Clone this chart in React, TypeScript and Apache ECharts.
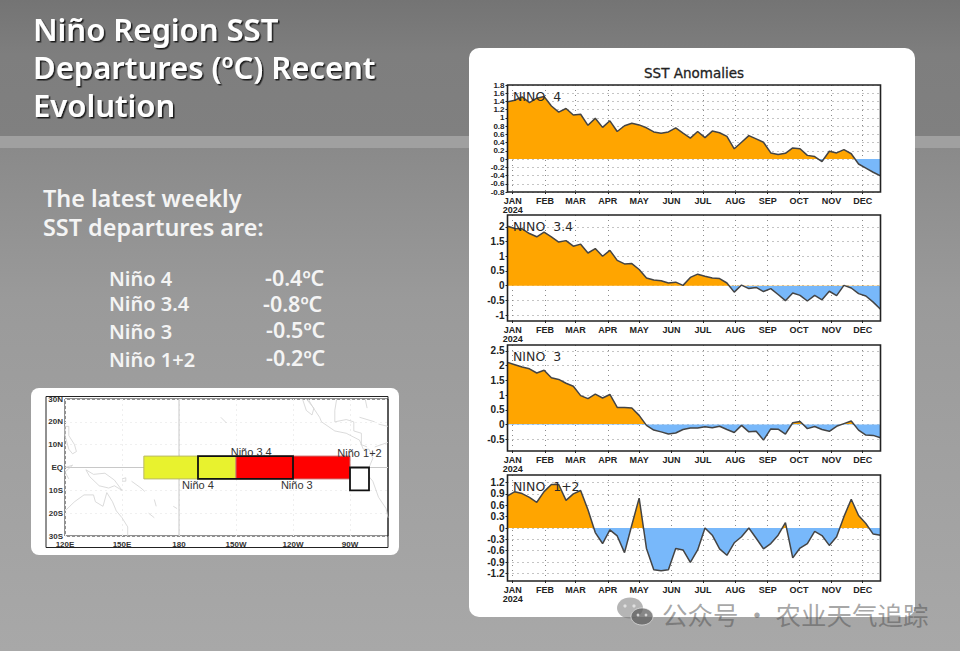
import React, { useEffect, useRef } from "react";
import * as echarts from "echarts";

const monthLabels = ["JAN","FEB","MAR","APR","MAY","JUN","JUL","AUG","SEP","OCT","NOV","DEC"];
// day offsets from the first weekly sample (27 Dec 2023) to the 1st of each month
const monthDays = [5,36,65,96,126,157,187,218,249,279,310,340];
const weekDays = [0,7,14,21,28,35,42,49,56,63,70,77,84,91,98,105,112,119,126,133,140,147,154,161,168,175,182,189,196,203,210,217,224,231,238,245,252,259,266,273,280,287,294,301,308,315,322,329,336,343,350,357];

const nino4 = [1.39,1.43,1.51,1.37,1.48,1.52,1.29,1.14,1.23,1.07,1.09,0.82,0.99,0.77,0.93,0.67,0.81,0.87,0.83,0.76,0.66,0.63,0.66,0.76,0.63,0.51,0.67,0.52,0.68,0.64,0.55,0.25,0.41,0.57,0.49,0.41,0.15,0.11,0.14,0.27,0.25,0.09,0.06,-0.06,0.19,0.15,0.23,0.13,-0.12,-0.22,-0.32,-0.41];
const nino34 = [2.02,1.94,1.93,1.77,1.66,1.82,1.66,1.48,1.53,1.34,1.41,1.11,1.26,1.0,1.2,0.86,0.74,0.75,0.55,0.26,0.19,0.17,0.09,0.12,0.01,0.28,0.39,0.32,0.26,0.24,0.09,-0.22,0.02,-0.1,-0.06,-0.2,-0.1,-0.3,-0.51,-0.25,-0.33,-0.52,-0.33,-0.48,-0.19,-0.34,0.01,-0.08,-0.27,-0.35,-0.56,-0.8];
const nino3 = [2.11,2.03,1.95,1.89,1.75,1.84,1.59,1.53,1.4,1.3,0.98,0.88,1.03,0.9,1.02,0.58,0.58,0.56,0.31,-0.03,-0.19,-0.25,-0.32,-0.29,-0.17,-0.12,-0.12,-0.08,-0.11,-0.06,-0.17,-0.27,-0.03,-0.25,-0.23,-0.53,-0.15,-0.16,-0.33,0.06,0.1,-0.14,-0.07,-0.17,-0.23,-0.06,0.03,0.12,-0.19,-0.36,-0.37,-0.45];
const nino12 = [0.85,0.96,0.91,0.81,0.68,0.96,1.15,1.15,0.73,0.9,0.99,0.48,-0.12,-0.41,-0.05,-0.21,-0.65,0.08,0.79,-0.54,-1.1,-1.13,-1.1,-0.54,-0.58,-0.91,-0.58,0,-0.19,-0.55,-0.72,-0.39,-0.23,0,-0.27,-0.55,-0.41,-0.19,0.14,-0.79,-0.53,-0.41,-0.09,-0.2,-0.46,-0.23,0.3,0.76,0.33,0.12,-0.16,-0.19];

const ticks4 = [-0.8,-0.6,-0.4,-0.2,0,0.2,0.4,0.6,0.8,1,1.2,1.4,1.6,1.8];
const ticks34 = [-1,-0.5,0,0.5,1,1.5,2];
const ticks3 = [-0.5,0,0.5,1,1.5,2,2.5];
const ticks12 = [-1.2,-0.9,-0.6,-0.3,0,0.3,0.6,0.9,1.2];

const panelNames = ["NINO  4","NINO  3.4","NINO  3","NINO  1+2"];
const panelValues = [nino4,nino34,nino3,nino12];
const panelTicks = [ticks4,ticks34,ticks3,ticks12];
const panelRanges = [[-0.8,1.8],[-1.2,2.4],[-0.9,2.7],[-1.4,1.4]];
const panelTops = [85,215,345,475];
const panelBottoms = [192,321,451,581];

const summaryNames = ["Niño 4","Niño 3.4","Niño 3","Niño 1+2"];
const summaryValues = ["-0.4ºC","-0.8ºC","-0.5ºC","-0.2ºC"];
const summaryNameY = [278,303,331,359];
const summaryValueY = [277,303,329,357];
const summaryValueX = [265,263,266,266];

// Niño boxes: lon0, lat0, lon1, lat1
const yellowBox = [161.5,-5,210,5];
const redBox = [210,-5,270,5];
const box34 = [190,-5,240,5];
const box12 = [270,-10,280,0];
const mapLabels: [number,number,string][] = [[218,7,"Niño 3.4"],[190,-7.5,"Niño 4"],[242,-7.5,"Niño 3"],[275,6.3,"Niño 1+2"]];
const lonTicks = [120,150,180,210,240,270];
const lonNames = ["120E","150E","180","150W","120W","90W"];
const latTicks = [-30,-20,-10,0,10,20,30];
const latNames = ["30S","20S","10S","EQ","10N","20N","30N"];
const majorMapLines: number[][][] = [[[180,-30],[180,30]],[[120,0],[290,0]]];
const coasts: number[][][] = [
  [[120,-19],[125,-15],[130,-12],[135,-12],[136,-15],[140,-17],[142,-11],[145,-15],[147,-19],[150,-22],[153,-26],[153,-30]],
  [[131,-1],[135,-3],[141,-2.5],[146,-5.5],[150,-10],[146,-8],[143,-9],[138,-8],[133,-4],[131,-1]],
  [[150,-5],[152,-4.5],[152,-6],[150,-6]],
  [[155,-6],[160,-9],[162,-10.5]],
  [[120,18],[122,18],[122,14],[125,10],[126,7],[124,6],[122,8],[120,14],[120,18]],
  [[120,0],[124,1],[120,-2],[122,-5]],
  [[167,-14],[168,-17]],[[164,-20],[167,-22]],[[177,-17],[179,-18]],
  [[202,22],[205,19.5]],
  [[245,30],[247,25],[250,23],[251,26],[247,30]],
  [[248,30],[250,27],[254,22],[255,20],[262,16],[268,15],[275,12],[277,8],[280,8],[282,4],[280,0],[279,-3],[282,-6],[285,-13],[289,-18],[290,-22]],
  [[279,9],[276,10],[276,15],[272,16],[272,20],[268,21],[262,20],[262,25],[263,30]],
  [[275,22],[283,20]],[[278,30],[279,26]],[[283,9],[290,11]],[[285,19],[290,18]],
];

const ORANGE = "#FFA500";
const BLUE = "#78B8FA";
const FRAME = "#222";
const NARROW = '"Liberation Sans Narrow","Liberation Sans",sans-serif';
const SLIDE = '"Noto Sans",sans-serif';
const PLOT_LEFT = 507.5;
const PLOT_RIGHT = 880.5;

function slideText(text: string, x: number, y: number, size: number, shadow = false) {
  return {
    type: "text", x, y, z: 20,
    style: {
      text, fontFamily: SLIDE, fontSize: size, fontWeight: 600, fill: "#f4f4f4",
      textVerticalAlign: "middle",
      ...(shadow ? { fill: "#ffffff", textShadowColor: "#1c1c1c", textShadowOffsetX: 1.5, textShadowOffsetY: 1.5, textShadowBlur: 1 } : {}),
    },
  };
}

function toBroken(lines: number[][][]) {
  const out: any[] = [];
  lines.forEach((c) => { c.forEach((p) => out.push(p)); out.push(["-", "-"]); });
  return out;
}

function buildOption() {
  const grids: any[] = [];
  const xAxes: any[] = [];
  const yAxes: any[] = [];
  const series: any[] = [];
  const dotted = { show: true, lineStyle: { color: "#8a8a8a", type: [1, 4], width: 1 } };

  panelValues.forEach((vals, i) => {
    grids.push({ left: PLOT_LEFT, width: PLOT_RIGHT - PLOT_LEFT, top: panelTops[i], height: panelBottoms[i] - panelTops[i], show: false });
    xAxes.push({
      type: "value", gridIndex: i, min: 0, max: 357,
      axisLine: { show: false, onZero: false },
      axisTick: { show: true, length: 2, lineStyle: { color: FRAME }, customValues: monthDays },
      axisLabel: {
        customValues: monthDays, margin: 4, hideOverlap: false, fontFamily: NARROW, fontWeight: "bold", fontSize: 9, color: "#222", lineHeight: 9.5,
        showMinLabel: true, showMaxLabel: true,
        formatter: (v: number) => { const k = monthDays.indexOf(v); return k === 0 ? "JAN\n2024" : monthLabels[k]; },
      },
      splitLine: dotted,
    });
    yAxes.push({
      type: "value", gridIndex: i, min: panelRanges[i][0], max: panelRanges[i][1],
      axisLine: { show: false, onZero: false },
      axisTick: { show: true, length: 2, lineStyle: { color: FRAME }, customValues: panelTicks[i] },
      axisLabel: { customValues: panelTicks[i], margin: 3, hideOverlap: false, showMinLabel: true, showMaxLabel: true, fontFamily: NARROW, fontWeight: "bold", fontSize: i === 0 ? 8 : 10, lineHeight: i === 0 ? 8 : 10, color: "#222", formatter: (v: number) => String(v) },
      splitLine: dotted,
    });
    const pts = vals.map((v, k) => [weekDays[k], v]);
    series.push({ type: "line", name: panelNames[i] + " fill", xAxisIndex: i, yAxisIndex: i, data: pts, showSymbol: false, symbol: "none", lineStyle: { width: 0 }, areaStyle: { origin: 0, opacity: 1 }, z: 3 });
    series.push({ type: "line", name: panelNames[i], xAxisIndex: i, yAxisIndex: i, data: pts, showSymbol: false, symbol: "none", lineStyle: { width: 1.5, color: "#444" }, z: 4 });
  });

  // map panel
  grids.push({ left: 65, width: 323, top: 399, height: 137, show: true, borderColor: FRAME, borderWidth: 1, backgroundColor: "transparent" });
  xAxes.push({
    type: "value", gridIndex: 4, min: 120, max: 290,
    axisLine: { show: false, onZero: false },
    axisTick: { show: false, customValues: lonTicks },
    axisLabel: { customValues: lonTicks, margin: 4, hideOverlap: false, showMinLabel: true, fontFamily: NARROW, fontWeight: "bold", fontSize: 8, lineHeight: 8, color: "#333", formatter: (v: number) => lonNames[lonTicks.indexOf(v)] },
    splitLine: { show: true, lineStyle: { color: "#efefef", width: 1, type: [2, 3] } },
  });
  yAxes.push({
    type: "value", gridIndex: 4, min: -30, max: 30,
    axisLine: { show: false, onZero: false },
    axisTick: { show: false, customValues: latTicks },
    axisLabel: { customValues: latTicks, margin: 2, hideOverlap: false, showMinLabel: true, showMaxLabel: true, fontFamily: NARROW, fontWeight: "bold", fontSize: 8, lineHeight: 8, color: "#333", formatter: (v: number) => latNames[latTicks.indexOf(v)] },
    splitLine: { show: true, lineStyle: { color: "#f0f0f0", width: 1, type: [2, 3] } },
  });
  series.push({ type: "line", name: "map lines", xAxisIndex: 4, yAxisIndex: 4, data: toBroken(majorMapLines), showSymbol: false, symbol: "none", connectNulls: false, lineStyle: { color: "#c8c8c8", width: 1 }, z: 2 });
  series.push({ type: "line", name: "coast", xAxisIndex: 4, yAxisIndex: 4, data: toBroken(coasts), showSymbol: false, symbol: "none", connectNulls: false, lineStyle: { color: "#d2d2d2", width: 0.8 }, z: 2 });
  const boxes = [
    { b: yellowBox, fill: "#E8F22E", stroke: "#b9b96a", w: 1 },
    { b: redBox, fill: "#FF0000", stroke: "#c96a6a", w: 1 },
    { b: box34, fill: "none", stroke: "#111", w: 1.8 },
    { b: box12, fill: "#fff", stroke: "#111", w: 1.8 },
  ];
  series.push({
    type: "custom", name: "boxes", xAxisIndex: 4, yAxisIndex: 4, coordinateSystem: "cartesian2d", z: 5,
    data: boxes.map((x) => x.b), clip: false,
    renderItem: (_p: any, api: any) => {
      const k = _p.dataIndex; const spec = boxes[k];
      const a = api.coord([spec.b[0], spec.b[3]]); const c = api.coord([spec.b[2], spec.b[1]]);
      return { type: "rect", shape: { x: a[0], y: a[1], width: c[0] - a[0], height: c[1] - a[1] }, style: { fill: spec.fill, stroke: spec.stroke, lineWidth: spec.w } };
    },
  });
  series.push({
    type: "custom", name: "box labels", xAxisIndex: 4, yAxisIndex: 4, coordinateSystem: "cartesian2d", z: 6,
    data: mapLabels, clip: false,
    renderItem: (_p: any, api: any) => {
      const l = mapLabels[_p.dataIndex]; const p = api.coord([l[0], l[1]]);
      return { type: "text", x: p[0], y: p[1], style: { text: l[2], fontFamily: '"Liberation Sans",sans-serif', fontSize: 11, fill: "#333", align: "center", verticalAlign: "middle" } };
    },
  });

  const graphic: any[] = [
    { type: "rect", z: -10, shape: { x: 0, y: 0, width: 960, height: 136 }, style: { fill: new echarts.graphic.LinearGradient(0, 0, 0, 1, [{ offset: 0, color: "#747474" }, { offset: 0.4, color: "#7e7e7e" }, { offset: 1, color: "#808080" }]) } },
    { type: "rect", z: -10, shape: { x: 0, y: 148, width: 960, height: 503 }, style: { fill: new echarts.graphic.LinearGradient(0, 0, 0, 1, [{ offset: 0, color: "#8a8a8a" }, { offset: 0.3, color: "#9a9a9a" }, { offset: 1, color: "#a8a8a8" }]) } },
    { type: "rect", z: -10, shape: { x: 0, y: 136, width: 960, height: 12 }, style: { fill: "#a0a0a0" } },
    { type: "rect", z: -9, shape: { x: 469, y: 48, width: 446, height: 569, r: 10 }, style: { fill: "#ffffff" } },
    { type: "rect", z: -9, shape: { x: 31, y: 388, width: 368, height: 167, r: 8 }, style: { fill: "#ffffff" } },
    { type: "rect", z: 1, shape: { x: 46, y: 396.5, width: 342, height: 151 }, style: { fill: "none", stroke: FRAME, lineWidth: 1 } },
    slideText("Niño Region SST", 33, 29, 31, true),
    slideText("Departures (ºC) Recent", 33, 67, 31, true),
    slideText("Evolution", 33, 105, 31, true),
    slideText("The latest weekly", 43, 198, 23.4),
    slideText("SST departures are:", 43, 227, 23.4),
    { type: "text", x: 694, y: 73, z: 20, style: { text: "SST Anomalies", fontFamily: '"DejaVu Sans",sans-serif', fontSize: 13.5, fill: "#222", stroke: "#222", lineWidth: 0.3, align: "center", verticalAlign: "middle" } },
  ];
  summaryNames.forEach((s, i) => {
    graphic.push(slideText(s, 109, summaryNameY[i], 20));
    graphic.push(slideText(summaryValues[i], summaryValueX[i], summaryValueY[i], 21.5));
  });
  panelNames.forEach((s, i) => {
    graphic.push({ type: "rect", z: 15, shape: { x: PLOT_LEFT, y: panelTops[i], width: PLOT_RIGHT - PLOT_LEFT, height: panelBottoms[i] - panelTops[i] }, style: { fill: "none", stroke: FRAME, lineWidth: 1.6 } });
    graphic.push({ type: "text", z: 16, x: 513, y: panelTops[i] + 11, style: { text: s, fontFamily: '"DejaVu Sans",sans-serif', fontSize: 12.5, fill: "#2a2a2a", verticalAlign: "middle" } });
  });
  // watermark
  const wm = "rgba(80,80,80,0.5)";
  const eye = "rgba(235,235,235,0.8)";
  graphic.push(
    { type: "ellipse", z: 30, shape: { cx: 630, cy: 608, rx: 13, ry: 10.5 }, style: { fill: "rgba(120,120,120,0.55)" } },
    { type: "circle", z: 31, shape: { cx: 625, cy: 606, r: 1.6 }, style: { fill: eye } },
    { type: "circle", z: 31, shape: { cx: 634, cy: 606, r: 1.6 }, style: { fill: eye } },
    { type: "ellipse", z: 32, shape: { cx: 642, cy: 616.5, rx: 11, ry: 8.5 }, style: { fill: "rgba(95,95,95,0.75)", stroke: "rgba(240,240,240,0.6)", lineWidth: 1 } },
    { type: "circle", z: 33, shape: { cx: 638, cy: 615, r: 1.4 }, style: { fill: eye } },
    { type: "circle", z: 33, shape: { cx: 646, cy: 615, r: 1.4 }, style: { fill: eye } },
    { type: "text", z: 34, x: 662, y: 613, style: { text: "公众号 · 农业天气追踪", fontFamily: '"Noto Sans CJK SC",sans-serif', fontSize: 25.5, fill: wm, verticalAlign: "middle" } },
  );

  return {
    animation: false,
    grid: grids,
    xAxis: xAxes,
    yAxis: yAxes,
    series,
    graphic,
    visualMap: {
      show: false, seriesIndex: [0, 2, 4, 6], dimension: 1,
      pieces: [{ min: -10, max: 0, color: BLUE }, { min: 0, max: 10, color: ORANGE }],
    },
  };
}

export default function App() {
  const ref = useRef<HTMLDivElement>(null);
  useEffect(() => {
    const chart = echarts.init(ref.current!, undefined, { renderer: "svg" });
    chart.setOption(buildOption() as any);
    return () => chart.dispose();
  }, []);
  return <div ref={ref} style={{ position: "absolute", left: 0, top: 0, width: 960, height: 651 }} />;
}
